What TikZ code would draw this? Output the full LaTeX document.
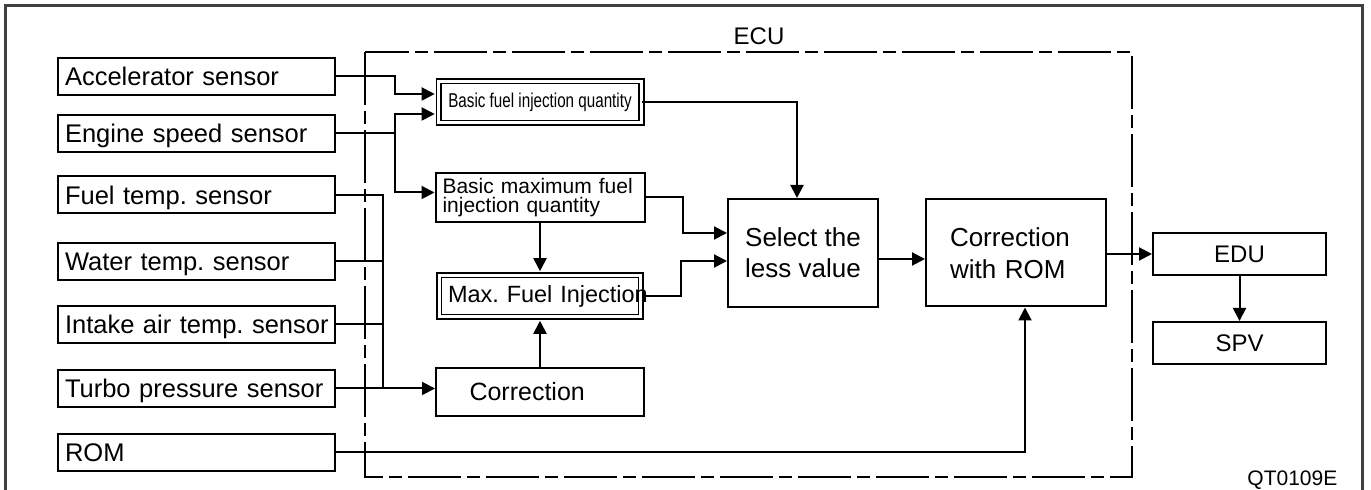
\documentclass[tikz,border=0pt]{standalone}
\usepackage{fontspec}
\setmainfont{Liberation Sans}
\newfontfamily\narrowfont{Liberation Sans}[FakeStretch=0.76]
\usetikzlibrary{arrows.meta}
\frenchspacing

\begin{document}
\begin{tikzpicture}[x=0.5pt,y=-0.5pt,line width=1pt,
    box/.style={rectangle,draw},
    dblbox/.style={rectangle,draw,line width=0.8pt,double,double distance=1.6pt},
    sensor/.style={box,minimum height=18.5pt,text width=131.5pt,inner xsep=3.5pt,inner ysep=0pt,
        text height=9.1pt,text depth=0pt,align=left,font=\fontsize{12.75}{15}\selectfont},
    arr/.style={-{Triangle[length=6.5pt,width=6.5pt]}},
    dblarr/.style={arr,shorten >=1.6pt}]
    \useasboundingbox (0,0) rectangle (1371,490);
    \draw[line width=1.5pt,black!75] (5,490) -- (5,6) -- (1362,6) -- (1362,490);
    \draw[dash pattern=on 26.5pt off 3pt on 6.5pt off 3pt] (365,52) rectangle (1132,477);
    \node[font=\fontsize{12}{14}\selectfont] at (759,36.5) (ecu) {ECU};
    \node[sensor] at (196.5,76.5) (accel) {Accelerator sensor};
    \node[sensor] at (196.5,133.5) (engine) {Engine speed sensor};
    \node[sensor] at (196.5,195) (fueltemp) {Fuel temp. sensor};
    \node[sensor] at (196.5,261.5) (watertemp) {Water temp. sensor};
    \node[sensor] at (196.5,324.5) (intake) {\mbox{Intake air temp. sensor}};
    \node[sensor] at (196.5,388.5) (turbo) {Turbo pressure sensor};
    \node[sensor] at (196.5,452.5) (rom) {ROM};
    \node[dblbox,minimum width=101.3pt,minimum height=20.8pt,inner sep=0pt,font=\narrowfont\fontsize{10}{11}\selectfont] at (540,102) (basicfuel) {Basic fuel injection quantity};
    \node[box,minimum width=104.5pt,minimum height=24.5pt,text width=97.5pt,inner xsep=3.5pt,inner ysep=0pt,align=left,font=\fontsize{10.5}{9.5}\selectfont] at (540,197.5) (basicmax) {Basic maximum fuel\\injection quantity};
    \node[dblbox,minimum width=100.8pt,minimum height=20.8pt,text width=92pt,inner xsep=4.4pt,inner ysep=0pt,align=left,font=\fontsize{11.75}{14}\selectfont] at (540,296) (maxfuel) {\mbox{Max. Fuel Injection}};
    \node[box,minimum width=104pt,minimum height=24pt,text width=70.5pt,inner xsep=16.75pt,align=left,font=\fontsize{12.5}{15}\selectfont] at (540,392) (correction) {Correction};
    \node[box,minimum width=75pt,minimum height=54pt,align=center,font=\fontsize{13}{15.5}\selectfont] at (803,253) (select) {Select the\\less value};
    \node[box,minimum width=90pt,minimum height=53.5pt,text width=66pt,inner xsep=12pt,align=left,font=\fontsize{13}{16}\selectfont] at (1016,253) (corrrom) {Correction\\with ROM};
    \node[box,minimum width=86.5pt,minimum height=21pt,font=\fontsize{12}{14}\selectfont] at (1239.5,254) (edu) {EDU};
    \node[box,minimum width=86.5pt,minimum height=21pt,font=\fontsize{12}{14}\selectfont] at (1239.5,343) (spv) {SPV};
    \node[anchor=east,font=\fontsize{10.5}{12}\selectfont] at (1345,480) (code) {QT0109E};
    \draw[dblarr] (accel.east) -- ++(59,0) |- ([yshift=4pt]basicfuel.west);
    \draw[dblarr] (engine.east) -- ++(59,0) |- ([yshift=-6pt]basicfuel.west);
    \draw[arr] (engine.east) -- ++(59,0) |- ([yshift=2.5pt]basicmax.west);
    \draw (fueltemp.east) -- ++(47,0) |- (turbo.east);
    \draw (watertemp.east) -- ++(47,0);
    \draw (intake.east) -- ++(47,0);
    \draw[arr] (turbo.east) -- (turbo.east -| correction.west);
    \draw[arr] (basicfuel.east) -| ([xshift=-3pt]select.north);
    \draw[arr] (basicmax.east) -- ++(37,0) |- ([yshift=10pt]select.west);
    \draw[arr] (maxfuel.east) -- ++(39,0) |- ([yshift=-4pt]select.west);
    \draw[dblarr] (basicmax.south) -- (maxfuel.north);
    \draw[dblarr] (correction.north) -- (maxfuel.south);
    \draw[arr] ([yshift=-3pt]select.east) -- ([yshift=-3pt]corrrom.west);
    \draw[arr] (corrrom.east |- edu.west) -- (edu.west);
    \draw[arr] (edu.south) -- (spv.north);
    \draw[arr] (rom.east) -| ([xshift=4.5pt]corrrom.south);
\end{tikzpicture}
\end{document}
